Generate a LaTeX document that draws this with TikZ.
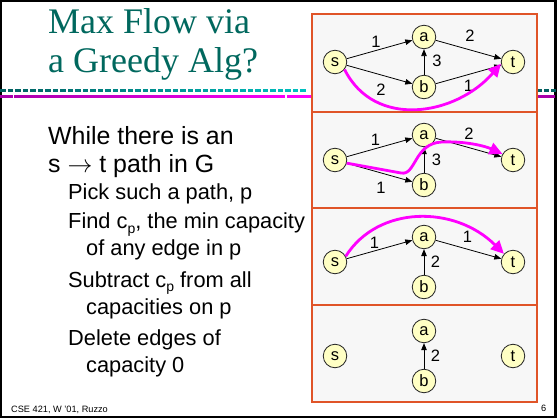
\documentclass[tikz,border=0pt]{standalone}
\usepackage{fontspec}
\setmainfont{Liberation Sans}
\newfontfamily\titlefont{Liberation Serif}
\usetikzlibrary{arrows.meta}
\definecolor{titleteal}{RGB}{0,104,94}
\definecolor{tealdark}{RGB}{0,96,96}
\definecolor{teallight}{RGB}{0,196,196}
\definecolor{magdark}{RGB}{168,0,168}
\definecolor{maglight}{RGB}{255,0,255}
\definecolor{flowmag}{RGB}{255,0,255}
\definecolor{panelfill}{RGB}{247,247,247}
\definecolor{panelline}{RGB}{224,84,40}
\definecolor{nodefill}{RGB}{255,255,196}
\newcommand\lsub[1]{\raisebox{-0.22em}{\fontsize{14}{14}\selectfont #1}}
\begin{document}
\begin{tikzpicture}[x=1pt,y=-1pt,
  vtx/.style={circle, draw=black!85, line width=0.8pt, fill=nodefill, minimum size=23.5pt, inner sep=0pt, font=\fontsize{16.5}{16.5}\selectfont},
  edge/.style={draw=black, line width=0.8pt, -{Triangle[length=7pt,width=5.5pt]}},
  lbl/.style={inner sep=0pt, font=\fontsize{16.5}{16.5}\selectfont},
  flow/.style={draw=flowmag, line width=2.8pt, -{Triangle[length=13pt,width=12pt]}},
  panel/.style={draw=panelline, line width=1.1pt, fill=panelfill},
  mainline/.style={anchor=base west, inner sep=0pt, font=\fontsize{24.9}{24.9}\selectfont},
  subline/.style={anchor=base west, inner sep=0pt, font=\fontsize{21.8}{21.8}\selectfont},
  ttl/.style={anchor=base west, inner sep=0pt, text=titleteal, font=\titlefont\fontsize{36}{36}\selectfont},
  small/.style={anchor=base west, inner sep=0pt, font=\fontsize{9.2}{9.2}\selectfont},
]
\useasboundingbox (0,0) rectangle (560,420);
\fill[white] (0,0) rectangle (560,420);
\draw[line width=2.4pt] (1.2,1.2) rectangle (555.5,416.8);

% title rules
\foreach \x in {0,7.5,...,306} {
  \pgfmathsetmacro\pc{\x/3.12}
  \fill[teallight!\pc!tealdark] (\x,89.2) rectangle ++(5.5,3);
}
\foreach \x in {537,544,550.5} {\fill[tealdark] (\x,89.2) rectangle ++(5,3);}
\shade[left color=magdark, right color=maglight] (0,95.3) rectangle (312,97.8);
\fill[white] (12.5,95) rectangle (14,98.1);
\fill[white] (285,95) rectangle (286.5,98.1);
\fill[magdark] (537,95.3) rectangle (554.5,97.8);

% title
\node[ttl] (title1) at (48,33.3) {Max Flow via};
\node[ttl] (title2) at (48,72.7) {a Greedy Alg?};

% body
\node[mainline] (l1) at (48,144) {While there is an};
\node[mainline] (l2) at (48,172) {s $\rightarrow$ t path in G};
\node[subline] (l3) at (68,199.5) {Pick such a path, p};
\node[subline] (l4) at (68,228.5) {Find c\lsub{p}, the min capacity};
\node[subline] (l5) at (86,255.5) {of any edge in p};
\node[subline] (l6) at (68,287) {Subtract c\lsub{p} from all};
\node[subline] (l7) at (86,314) {capacities on p};
\node[subline] (l8) at (68,345.5) {Delete edges of};
\node[subline] (l9) at (86,372) {capacity 0};

\node[small] (foot) at (11,412) {CSE 421, W '01, Ruzzo};
\node[small] (pnum) at (541,411) {6};

% panels
\path[panel] (312,14) rectangle (537,112);
\path[panel] (312,112) rectangle (537,208);
\path[panel] (312,208) rectangle (537,305);
\path[panel] (312,305) rectangle (537,402);

% panel 1
\node[vtx] (s1) at (335,62) {s};
\node[vtx] (a1) at (424,37) {a};
\node[vtx] (b1) at (424,87) {b};
\node[vtx] (t1) at (513,62) {t};
\draw[edge] (s1) -- node[lbl, midway, shift={(-3.5,-7.5)}] {1} (a1);
\draw[edge] (s1) -- node[lbl, midway, shift={(1.5,15)}] {2} (b1);
\draw[edge] (b1) -- node[lbl, midway, shift={(13,-1)}] {3} (a1);
\draw[edge] (a1) -- node[lbl, midway, shift={(1.5,-13.5)}] {2} (t1);
\draw[edge] (b1) -- node[lbl, midway, shift={(0,11.5)}] {1} (t1);
\draw[flow] (s1.-38) .. controls +(30,60) and +(-45,52) .. (t1.188);

% panel 2
\node[vtx] (s2) at (335,160) {s};
\node[vtx] (a2) at (424,135) {a};
\node[vtx] (b2) at (424,185) {b};
\node[vtx] (t2) at (513,160) {t};
\draw[edge] (s2) -- node[lbl, midway, shift={(-4,-7.5)}] {1} (a2);
\draw[edge] (s2) -- node[lbl, midway, shift={(1.5,15)}] {1} (b2);
\draw[edge] (b2) -- node[lbl, midway, shift={(12.5,0)}] {3} (a2);
\draw[edge] (a2) -- node[lbl, midway, shift={(0.5,-13.5)}] {2} (t2);
\draw[flow] (s2.-15) -- (401,173) .. controls (416,176) and (414,143) .. (442,142)
  .. controls (465,141) and (485,146) .. (t2.150);

% panel 3
\node[vtx] (s3) at (335,262) {s};
\node[vtx] (a3) at (424,237) {a};
\node[vtx] (b3) at (424,287) {b};
\node[vtx] (t3) at (513,262) {t};
\draw[edge] (s3) -- node[lbl, midway, shift={(-5,-7)}] {1} (a3);
\draw[edge] (b3) -- node[lbl, midway, shift={(11.5,0)}] {2} (a3);
\draw[edge] (a3) -- node[lbl, midway, shift={(-1,-12.5)}] {1} (t3);
\draw[flow] (s3.28) .. controls (378,205) and (455,205) .. (t3.138);

% panel 4
\node[vtx] (s4) at (335,356) {s};
\node[vtx] (a4) at (424,331) {a};
\node[vtx] (b4) at (424,381) {b};
\node[vtx] (t4) at (513,356) {t};
\draw[edge] (b4) -- node[lbl, midway, shift={(11.5,0)}] {2} (a4);
\end{tikzpicture}
\end{document}
